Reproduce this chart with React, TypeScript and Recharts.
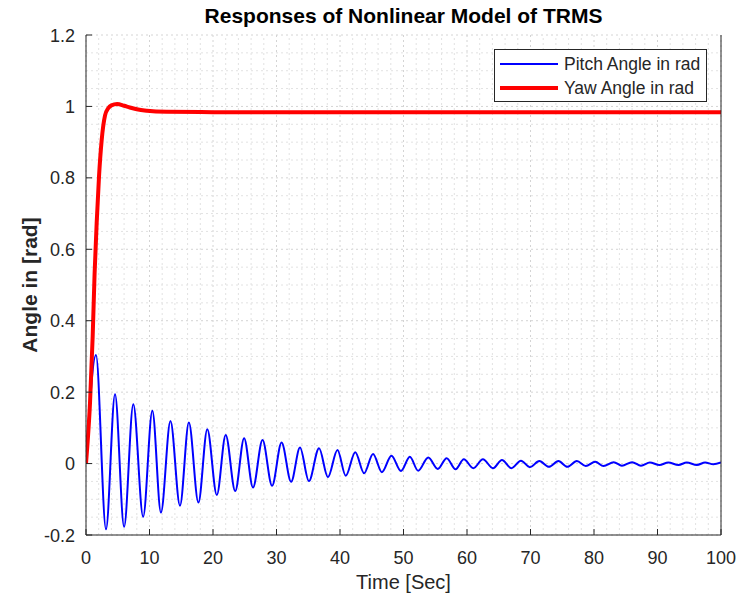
import React from 'react';
import { LineChart, Line, XAxis, YAxis, CartesianGrid, ReferenceLine } from 'recharts';

/* MATLAB-ish palette */
const AXIS = '#262626';
const GRID_MAJOR = '#d4d4d4';
const GRID_MINOR = '#e2e2e2';
const BLUE = '#0000ff';
const RED = '#ff0000';
const FONT = '"Liberation Sans", Arial, Helvetica, sans-serif';

const W = 741;
const H = 597;

// axis ticks
const xTicks = [0, 10, 20, 30, 40, 50, 60, 70, 80, 90, 100];
const yTicks = [-0.2, 0, 0.2, 0.4, 0.6, 0.8, 1, 1.2];
const xMinor = [2, 4, 6, 8].flatMap((d) => xTicks.slice(0, -1).map((t) => t + d));
const yMinor = yTicks.slice(0, -1).flatMap((t) => [0.05, 0.1, 0.15].map((d) => +(t + d).toFixed(2)));

// pitch angle, peaks and troughs
const pitchTime = [
  0, 1.57, 3.15, 4.57, 6.0, 7.45, 9.0, 10.45, 11.8, 13.3, 14.8, 16.2, 17.7, 19.1, 20.6, 22.0,
  23.5, 24.9, 26.3, 27.8, 29.3, 30.8, 32.3, 33.7, 35.1, 36.7, 38.1, 39.6, 40.9, 42.4, 43.8,
  45.2, 46.6, 48.1, 49.6, 51.0, 52.3, 53.9, 55.4, 56.8, 58.2, 59.5, 61.0, 62.5, 64.1, 65.5,
  67.0, 68.5, 69.9, 71.4, 72.9, 74.4, 75.8, 77.3, 78.7, 80.2, 81.5, 83.1, 84.4, 86.0, 87.4,
  88.8, 90.3, 91.7, 93.3, 94.6, 96.2, 97.5, 98.8, 100,
];
const pitchAngle = [
  0, 0.304, -0.184, 0.194, -0.177, 0.166, -0.149, 0.148, -0.137, 0.119, -0.118, 0.115, -0.109,
  0.096, -0.088, 0.08, -0.077, 0.071, -0.067, 0.066, -0.062, 0.059, -0.051, 0.045, -0.049,
  0.043, -0.038, 0.038, -0.034, 0.032, -0.027, 0.027, -0.024, 0.022, -0.021, 0.019, -0.02,
  0.017, -0.015, 0.015, -0.016, 0.012, -0.013, 0.012, -0.013, 0.01, -0.013, 0.008, -0.01,
  0.007, -0.009, 0.007, -0.009, 0.007, -0.007, 0.005, -0.007, 0.004, -0.006, 0.004, -0.006,
  0.003, -0.004, 0.003, -0.004, 0.003, -0.004, 0.003, -0.002, 0.003,
];

// yaw angle
const yawTime = [0, 0.2, 0.63, 1.05, 1.35, 1.68, 2.05, 2.47, 3.0, 3.5, 4.0, 4.9, 6.0, 6.9, 8.0, 9.6, 12.7, 20, 100];
const yawAngle = [0, 0.047, 0.169, 0.355, 0.53, 0.673, 0.804, 0.906, 0.975, 0.995, 1.003, 1.007, 1.002, 0.997, 0.992, 0.988, 0.985, 0.984, 0.984];

const pitchData = pitchTime.map((t, i) => ({ t, v: pitchAngle[i] }));
const yawData = yawTime.map((t, i) => ({ t, v: yawAngle[i] }));

const BottomTick = ({ x, y, payload }: any) => (
  <g>
    <line x1={x} x2={x} y1={y} y2={y - 6} stroke={AXIS} />
    <text x={x} y={y + 29} textAnchor="middle" fontSize={18} fill={AXIS} fontFamily={FONT}>
      {payload.value}
    </text>
  </g>
);

const TopTick = ({ x, y }: any) => <line x1={x} x2={x} y1={y} y2={y + 6} stroke={AXIS} />;

const LeftTick = ({ x, y, payload }: any) => (
  <g>
    <line x1={x} x2={x + 6} y1={y} y2={y} stroke={AXIS} />
    <text x={x - 11} y={y + 6.5} textAnchor="end" fontSize={18} fill={AXIS} fontFamily={FONT}>
      {String(payload.value)}
    </text>
  </g>
);

const RightTick = ({ x, y }: any) => <line x1={x} x2={x - 6} y1={y} y2={y} stroke={AXIS} />;

function LegendBox() {
  const row = (color: string, width: number, label: string) => (
    <div style={{ display: 'flex', alignItems: 'center', height: 24 }}>
      <div style={{ width: 58, height: width, background: color, marginLeft: 5, marginRight: 6 }} />
      <span style={{ fontSize: 17.5, color: AXIS }}>{label}</span>
    </div>
  );
  return (
    <div
      style={{
        position: 'absolute',
        left: 494,
        top: 49,
        width: 213,
        height: 53,
        border: `1px solid ${AXIS}`,
        background: '#fff',
        fontFamily: FONT,
        paddingTop: 2,
        boxSizing: 'border-box',
      }}
    >
      {row(BLUE, 2, 'Pitch Angle in rad')}
      {row(RED, 4, 'Yaw Angle in rad')}
    </div>
  );
}

export default function App() {
  return (
    <div style={{ position: 'absolute', left: 0, top: 0, width: W, height: H, background: '#fff', fontFamily: FONT }}>
      <LineChart width={W} height={H} margin={{ top: 35, right: 0, bottom: 0, left: 0 }}>
        <XAxis
          xAxisId="bottom"
          type="number"
          dataKey="t"
          domain={[0, 100]}
          ticks={xTicks}
          height={62}
          tickSize={0}
          tickMargin={0}
          tickLine={false}
          stroke={AXIS}
          tick={<BottomTick />}
          allowDataOverflow
        />
        <XAxis
          xAxisId="top"
          orientation="top"
          type="number"
          dataKey="t"
          domain={[0, 100]}
          ticks={xTicks}
          height={0}
          tickSize={0}
          tickMargin={0}
          tickLine={false}
          stroke={AXIS}
          tick={<TopTick />}
        />
        <YAxis
          yAxisId="left"
          type="number"
          domain={[-0.2, 1.2]}
          ticks={yTicks}
          width={86}
          tickSize={0}
          tickMargin={0}
          tickLine={false}
          stroke={AXIS}
          tick={<LeftTick />}
          allowDataOverflow
        />
        <YAxis
          yAxisId="right"
          orientation="right"
          type="number"
          domain={[-0.2, 1.2]}
          ticks={yTicks}
          width={20}
          tickSize={0}
          tickMargin={0}
          tickLine={false}
          stroke={AXIS}
          tick={<RightTick />}
        />
        {xMinor.map((v) => (
          <ReferenceLine key={'xm' + v} x={v} xAxisId="bottom" yAxisId="left" stroke={GRID_MINOR} strokeDasharray="2 3" />
        ))}
        {yMinor.map((v) => (
          <ReferenceLine key={'ym' + v} y={v} xAxisId="bottom" yAxisId="left" stroke={GRID_MINOR} strokeDasharray="2 3" />
        ))}
        <CartesianGrid xAxisId="bottom" yAxisId="left" stroke={GRID_MAJOR} strokeDasharray="2 3" />
        <Line
          data={pitchData}
          xAxisId="bottom"
          yAxisId="left"
          dataKey="v"
          type="monotone"
          stroke={BLUE}
          strokeWidth={2}
          dot={false}
          isAnimationActive={false}
        />
        <Line
          data={yawData}
          xAxisId="bottom"
          yAxisId="left"
          dataKey="v"
          type="monotone"
          stroke={RED}
          strokeWidth={4}
          dot={false}
          isAnimationActive={false}
        />
      </LineChart>
      <div
        style={{
          position: 'absolute',
          left: 86,
          width: 635,
          top: 4,
          textAlign: 'center',
          fontSize: 21,
          fontWeight: 'bold',
          color: '#000',
        }}
      >
        Responses of Nonlinear Model of TRMS
      </div>
      <div
        style={{
          position: 'absolute',
          left: 86,
          width: 635,
          top: 571,
          textAlign: 'center',
          fontSize: 20,
          color: AXIS,
        }}
      >
        Time [Sec]
      </div>
      <div
        style={{
          position: 'absolute',
          left: 30,
          top: 285,
          transform: 'translate(-50%, -50%) rotate(-90deg)',
          whiteSpace: 'nowrap',
          fontSize: 21,
          fontWeight: 'bold',
          color: AXIS,
        }}
      >
        Angle in [rad]
      </div>
      <LegendBox />
    </div>
  );
}
